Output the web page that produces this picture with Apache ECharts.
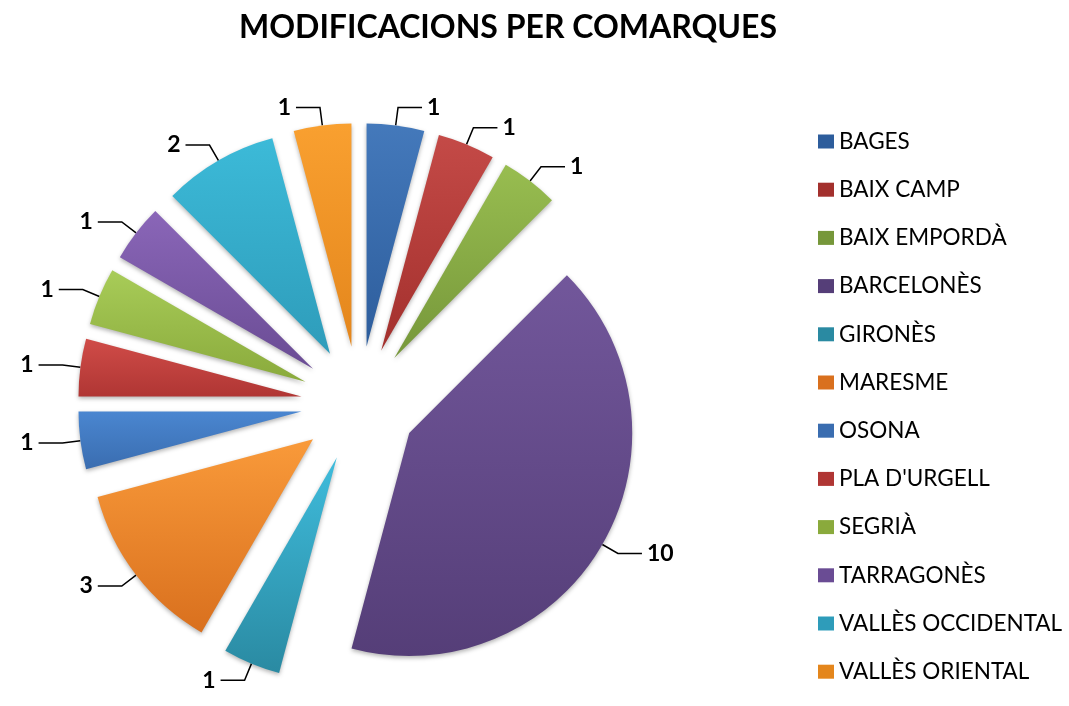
<!DOCTYPE html>
<html>
<head>
<meta charset="utf-8">
<script src="https://cdn.jsdelivr.net/npm/echarts@6/dist/echarts.min.js"></script>
<style>html,body{margin:0;padding:0;background:#fff}#c{width:1069px;height:706px}</style>
</head>
<body>
<div id="c"></div>
<script>
const categories = ["BAGES","BAIX CAMP","BAIX EMPORDÀ","BARCELONÈS","GIRONÈS","MARESME","OSONA","PLA D'URGELL","SEGRIÀ","TARRAGONÈS","VALLÈS OCCIDENTAL","VALLÈS ORIENTAL"];
const values = [1,1,1,10,1,3,1,1,1,1,2,1];
const lightColors = ["#4479bb","#c44a47","#98bd50","#72579b","#3fbcdc","#f99a3a","#4a86d0","#d04c48","#a8cc58","#8a66b8","#3cbad8","#f9a030"];
const darkColors  = ["#2d5d9c","#a3302d","#76973a","#553e78","#2a8aa2","#d9701e","#3a6db0","#b03634","#8aaa3c","#6a4c94","#2e9cba","#e4861c"];

const chart = echarts.init(document.getElementById('c'));
const data = categories.map((n, i) => ({
  name: n,
  value: values[i],
  selected: true,
  itemStyle: {
    color: new echarts.graphic.LinearGradient(0, 0, 0, 1, [
      {offset: 0, color: lightColors[i]},
      {offset: 1, color: darkColors[i]}
    ])
  }
}));
chart.setOption({
  animation: false,
  title: {
    text: 'MODIFICACIONS PER COMARQUES',
    left: 503, top: 7, textAlign: 'center',
    textStyle: {fontFamily: 'Lato', fontWeight: 'bold', fontSize: 32, color: '#000'}
  },
  legend: {
    orient: 'vertical', left: 813, top: 125,
    itemWidth: 16, itemHeight: 14, itemGap: 25.2,
    icon: 'rect',
    textStyle: {fontFamily: 'Lato', fontSize: 22.5, color: '#000', lineHeight: 21},
    data: categories.map((n, i) => ({name: n, itemStyle: {color: darkColors[i]}}))
  },
  series: [{
    type: 'pie',
    center: [359, 404],
    radius: 223,
    startAngle: 90,
    clockwise: true,
    selectedMode: 'multiple',
    selectedOffset: 58,
    avoidLabelOverlap: false,
    silent: true,
    itemStyle: {shadowBlur: 4, shadowColor: 'rgba(0,0,0,0.3)', shadowOffsetY: 2},
    label: {
      show: true, position: 'outside', formatter: '{c}',
      fontFamily: 'Lato', fontWeight: 'bold', fontSize: 23, color: '#000'
    },
    labelLine: {show: true, length: 18, length2: 24, lineStyle: {color: '#000', width: 1.5}},
    data: data
  }]
});
</script>
</body>
</html>
